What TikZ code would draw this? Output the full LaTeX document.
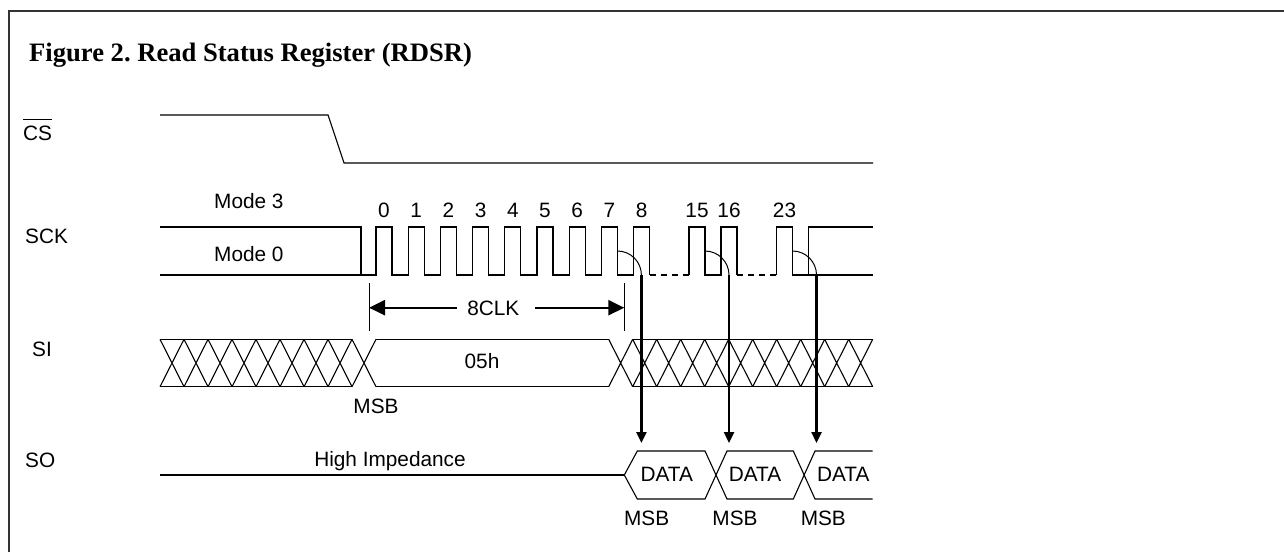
\documentclass[tikz,border=0pt]{standalone}
\usepackage{fontspec}
\setmainfont{Liberation Serif}
\newfontfamily\arialf{Liberation Sans}
\usetikzlibrary{arrows.meta}
\frenchspacing
\begin{document}
\begin{tikzpicture}[x=1pt,y=-1pt,
  sig/.style={line width=1.1pt, line join=miter},
  lbl/.style={font=\arialf\fontsize{20.8}{24}\selectfont, inner sep=0pt, anchor=base},
  lblw/.style={lbl, anchor=base west},
  thickarrow/.style={line width=2.4pt, -{Triangle[length=11pt,width=10pt]}},
  clkarrow/.style={line width=2.4pt, -{Triangle[length=16pt,width=15pt]}}]
\useasboundingbox (0,0) rectangle (1284,552);
% frame
\draw[line width=2pt, black!80] (9,552) -- (9,10.5) -- (1284,10.5);
% title
\node[font=\bfseries\fontsize{26.6}{31}\selectfont, anchor=base west, inner sep=0pt] (title) at (29,61.7) {Figure 2. Read Status Register (RDSR)};
% signal names
\node[lblw] (cs) at (23,140) {CS};
\draw[line width=1.1pt] ([yshift=6pt]cs.north west) -- ([yshift=6pt]cs.north east);
\node[lblw] (sck) at (25,243) {SCK};
\node[lblw] (si) at (32,356.7) {SI};
\node[lblw] (so) at (25,467) {SO};
\node[lblw] (m3) at (214,208.3) {Mode 3};
\node[lblw] (m0) at (214,261.7) {Mode 0};
% CS
\draw[sig] (160,115) -- (328,115) -- (344,163) -- (873,163);
% SCK
\draw[sig] (160,227) -- (361,227) -- (361,275);
\draw[sig] (160,275)
  \foreach \r in {376,408.2,440.4,472.6,504.8,537,569.2,601.4,633.6} { -- (\r,275) -- (\r,227) -- (\r+16,227) -- (\r+16,275) };
\draw[sig, dash pattern=on 6pt off 5pt] (649.6,275) -- (689,275);
\draw[sig] (689,275) \foreach \r in {689,721} { -- (\r,275) -- (\r,227) -- (\r+16,227) -- (\r+16,275) };
\draw[sig, dash pattern=on 6pt off 5pt] (737,275) -- (776.5,275);
\draw[sig] (776.5,275) -- (776.5,227) -- (792.5,227) -- (792.5,275) -- (873,275);
\draw[sig] (808.3,275) -- (808.3,227) -- (873,227);
% clock numbers
\foreach \r/\n in {376/0,408.2/1,440.4/2,472.6/3,504.8/4,537/5,569.2/6,601.4/7,633.6/8,689/15,721/16,776.5/23}
  \node[lbl] (c\n) at (\r+8,217) {\n};
% arcs and arrows to SO
\foreach \f/\k in {617.4/a,705/b,792.5/c} {
  \coordinate (s\k) at (\f,251);
  \coordinate (e\k) at (\f+24,275);
  \coordinate (t\k) at (\f+24,443);
  \draw[line width=1pt] (s\k) .. controls (\f+13.25,251) and (\f+24,261.75) .. (e\k);
  \draw[thickarrow] (e\k) -- (t\k);
}
% 8CLK
\draw[line width=1pt] (369,283) -- (369,331);
\draw[line width=1pt] (624.3,283) -- (624.3,331);
\coordinate (kl) at (369,307.7);
\coordinate (kr) at (624.3,307.7);
\node[lbl] (clk) at (493.3,315) {8CLK};
\draw[clkarrow] (456.7,307.7) -- (kl);
\draw[clkarrow] (535,307.7) -- (kr);
% SI
\def\T{339.3}\def\B{386.7}
\foreach \i in {0,...,8}
  \draw[sig] (160+24*\i,\T) -- (184+24*\i,\B) (160+24*\i,\B) -- (184+24*\i,\T);
\draw[sig] (160,\T) -- (352,\T) (160,\B) -- (352,\B);
\draw[sig] (376,\T) -- (608.7,\T) (376,\B) -- (608.7,\B);
\draw[sig] (608.7,\T) -- (632.7,\B) (608.7,\B) -- (632.7,\T);
\foreach \i in {0,...,9}
  \draw[sig] (632.7+24*\i,\T) -- (656.7+24*\i,\B) (632.7+24*\i,\B) -- (656.7+24*\i,\T);
\draw[sig] (632.7,\T) -- (872.7,\T) (632.7,\B) -- (872.7,\B);
\node[lbl] (d05) at (482,368.3) {05h};
\node[lbl] (msb0) at (376,413.3) {MSB};
% SO
\draw[sig] (160,475) -- (624.3,475);
\node[lbl] (hiz) at (390,466) {High Impedance};
\draw[sig] (624.3,475) -- (637.3,451) -- (705,451) -- (727,499) -- (793.3,499) -- (815,451) -- (872.7,451);
\draw[sig] (624.3,475) -- (637.3,499) -- (705,499) -- (727,451) -- (793.3,451) -- (815,499) -- (872.7,499);
\node[lbl] (da1) at (666.7,481) {DATA};
\node[lbl] (da2) at (755,481) {DATA};
\node[lbl] (da3) at (843.3,481) {DATA};
\node[lbl] (ms1) at (646.7,525.7) {MSB};
\node[lbl] (ms2) at (735,525.7) {MSB};
\node[lbl] (ms3) at (823.3,525.7) {MSB};
\end{tikzpicture}
\end{document}
